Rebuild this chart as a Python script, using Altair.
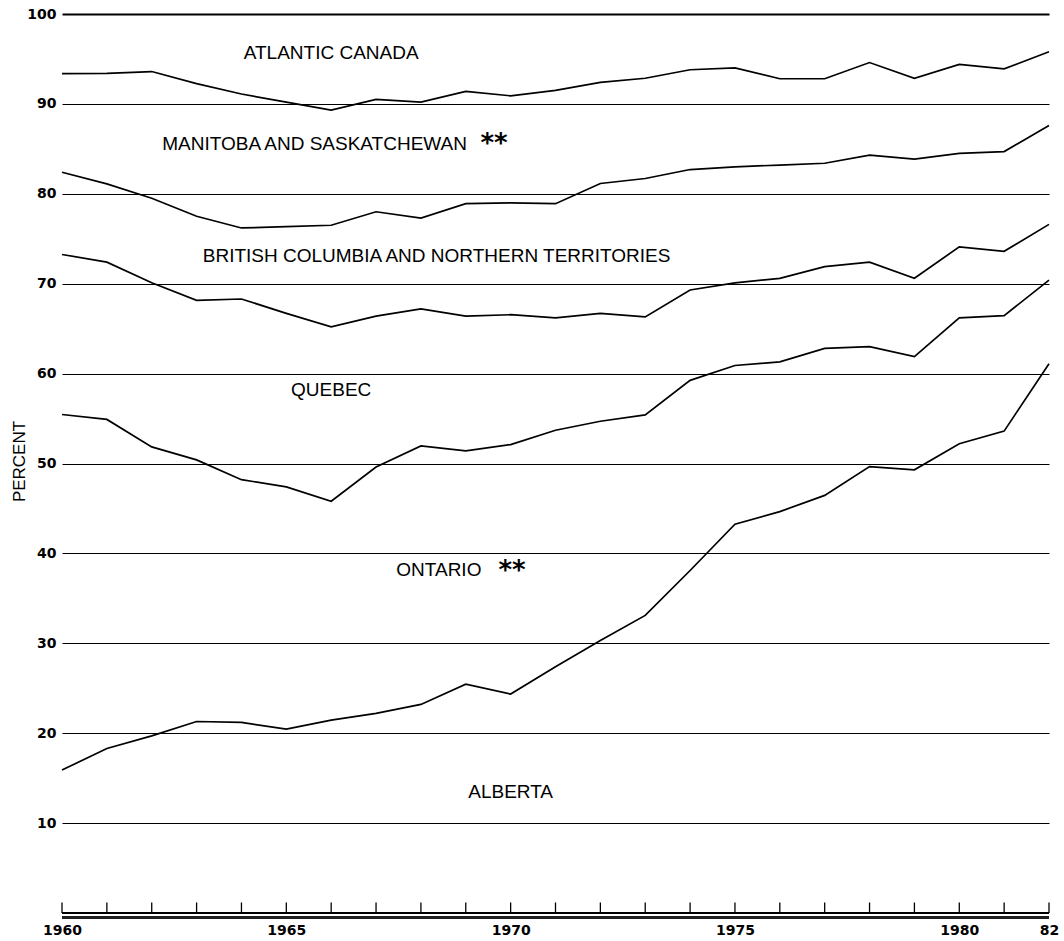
import altair as alt
import pandas as pd

# ---- data -----------------------------------------------------------------
years = list(range(1960, 1983))

# cumulative boundary lines (percent), bottom to top
line_alberta_top = [15.9, 18.3, 19.7, 21.3, 21.2, 20.45, 21.45, 22.2, 23.2, 25.45, 24.35,
                    27.4, 30.3, 33.1, 38.1, 43.25, 44.65, 46.45, 49.65, 49.3, 52.2, 53.6, 61.1]
line_ontario_top = [55.45, 54.9, 51.85, 50.4, 48.2, 47.4, 45.8, 49.6, 51.95, 51.4, 52.1,
                    53.7, 54.7, 55.4, 59.25, 60.9, 61.3, 62.8, 63.0, 61.9, 66.2, 66.45, 70.4]
line_quebec_top = [73.25, 72.4, 70.1, 68.15, 68.3, 66.7, 65.2, 66.4, 67.2, 66.4, 66.55,
                   66.2, 66.7, 66.3, 69.3, 70.1, 70.6, 71.9, 72.4, 70.6, 74.1, 73.6, 76.6]
line_bc_top = [82.4, 81.1, 79.5, 77.5, 76.2, 76.35, 76.5, 78.0, 77.3, 78.9, 79.0,
               78.9, 81.15, 81.7, 82.7, 83.0, 83.2, 83.4, 84.3, 83.85, 84.5, 84.7, 87.6]
line_mansask_top = [93.36, 93.4, 93.6, 92.25, 91.1, 90.2, 89.3, 90.5, 90.2, 91.4, 90.9,
                    91.5, 92.4, 92.85, 93.8, 94.0, 92.8, 92.8, 94.6, 92.85, 94.4, 93.9, 95.8]

region_labels = ["ATLANTIC CANADA", "MANITOBA AND SASKATCHEWAN",
                 "BRITISH COLUMBIA AND NORTHERN TERRITORIES", "QUEBEC", "ONTARIO", "ALBERTA"]
region_label_year = [1966.0, 1965.63, 1968.35, 1966.0, 1968.4, 1970.0]
region_label_pct = [95.66, 85.57, 73.05, 58.17, 38.1, 13.5]

star_labels = ["**", "**"]
star_year = [1969.63, 1970.03]
star_pct = [85.5, 38.0]

y_ticks = list(range(10, 101, 10))
x_label_years = [1960, 1965, 1970, 1975, 1980, 1982]

# ---- tables ------------------------------------------------------------------
series = {
    "alberta": line_alberta_top,
    "ontario": line_ontario_top,
    "quebec": line_quebec_top,
    "bc": line_bc_top,
    "mansask": line_mansask_top,
}
rows = []
for name, vals in series.items():
    for yr, v in zip(years, vals):
        rows.append({"series": name, "year": yr, "value": v})
df = pd.DataFrame(rows)

df_labels = pd.DataFrame({"label": region_labels, "year": region_label_year, "value": region_label_pct})
df_stars = pd.DataFrame({"label": star_labels, "year": star_year, "value": star_pct})
df_years = pd.DataFrame({"year": years})

xscale = alt.Scale(domain=[1960, 1982], nice=False, zero=False)
yscale = alt.Scale(domain=[0, 100], nice=False, zero=False)

lines = alt.Chart(df).mark_line(color="black", strokeWidth=1.7).encode(
    x=alt.X("year:Q", scale=xscale,
            axis=alt.Axis(values=x_label_years, format="d",
                          labelExpr="datum.value == 1982 ? '82' : datum.label",
                          ticks=False, domain=False, grid=False, labelFlush=False,
                          labelFont="DejaVu Sans", labelFontWeight="bold", labelFontSize=14,
                          labelColor="black", labelPadding=10, title=None)),
    y=alt.Y("value:Q", scale=yscale,
            axis=alt.Axis(values=y_ticks, ticks=False, domain=False, grid=True,
                          gridColor="black", gridOpacity=1,
                          gridWidth=alt.condition("datum.value == 100", alt.value(2.2), alt.value(1.2)),
                          labelFont="DejaVu Sans", labelFontWeight="bold", labelFontSize=14,
                          labelColor="black", labelPadding=6,
                          title="PERCENT", titleFont="Liberation Sans", titleFontSize=17,
                          titleFontWeight="normal", titleColor="black",
                          titleAngle=270, titleAlign="center", titleBaseline="middle",
                          titleX=-43, titleY=447)),
    detail="series:N",
)

baseline = alt.Chart(df_years).mark_rule(color="black", strokeWidth=1.5).encode(
    y=alt.datum(0)
)
baseline2 = alt.Chart(df_years).mark_rule(color="#222222", strokeWidth=1.6).encode(
    y=alt.datum(-0.5)
)
year_ticks = alt.Chart(df_years).mark_rule(color="black", strokeWidth=1.3).encode(
    x=alt.X("year:Q"), y=alt.datum(0), y2=alt.datum(1.17)
)

texts = alt.Chart(df_labels).mark_text(
    font="Liberation Sans", fontSize=19, color="black",
    align="center", baseline="middle"
).encode(x="year:Q", y="value:Q", text="label:N")

stars = alt.Chart(df_stars).mark_text(
    font="DejaVu Sans", fontSize=26, fontWeight="bold", color="black",
    align="center", baseline="middle"
).encode(x="year:Q", y="value:Q", text="label:N")

chart = alt.layer(lines, baseline, baseline2, year_ticks, texts, stars).properties(
    width=987, height=899,
    autosize=alt.AutoSizeParams(type="none"),
    padding={"left": 62, "top": 14, "right": 15, "bottom": 28},
    background="white",
).configure_view(stroke=None)

chart.save("out.html", embed_options={"renderer": "svg", "actions": False})
